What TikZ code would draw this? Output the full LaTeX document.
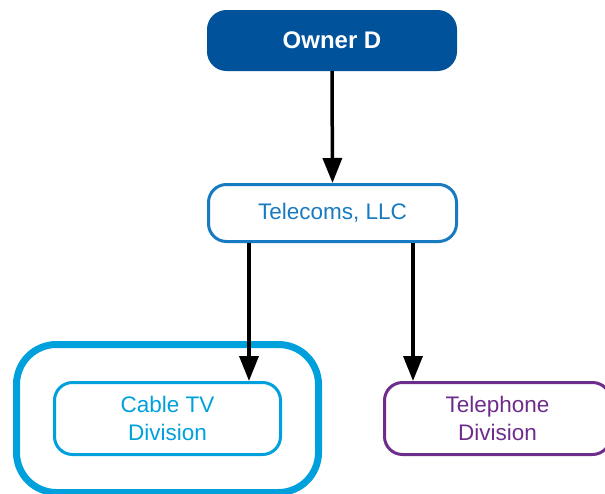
\documentclass[tikz,border=0pt]{standalone}
\usepackage{fontspec}
\setmainfont{Liberation Sans}
\usetikzlibrary{arrows.meta}
\definecolor{ownerblue}{RGB}{0,82,155}
\definecolor{llcblue}{RGB}{24,122,192}
\definecolor{cablecyan}{RGB}{0,160,220}
\definecolor{phonepurple}{RGB}{110,44,139}
\tikzset{
  unit/.style={rounded corners=18pt, line width=3pt, align=center, inner sep=0pt,
    font=\fontsize{22.5}{28.5}\selectfont},
  arr/.style={line width=3.5pt, -{Triangle[length=25pt,width=19pt]}}
}
\begin{document}
\begin{tikzpicture}[x=1pt, y=-1pt]
            \useasboundingbox (0,0) rectangle (605,493);
            \clip (0,0) rectangle (605,493);
            \node[unit, fill=ownerblue, draw=ownerblue, text=white, font=\fontsize{24}{29}\selectfont\bfseries,
                  minimum width=247pt, minimum height=58pt] (owner) at (332,40.5) {Owner D};
            \node[unit, draw=llcblue, text=llcblue, minimum width=248pt, minimum height=57pt] (llc) at (332.5,213) {Telecoms, LLC};
            \node[unit, draw=cablecyan, text=cablecyan, minimum width=226pt, minimum height=72pt] (cable) at (167.5,418.5) {Cable TV\\Division};
            \node[unit, draw=phonepurple, text=phonepurple, minimum width=226pt, minimum height=72pt] (phone) at (497.5,418.5) {Telephone\\Division};
            \node[draw=cablecyan, line width=7pt, rounded corners=40pt, minimum width=302pt, minimum height=148pt] (group) at (cable) {};
            \draw[arr] (owner.south) -- (llc.north);
            \draw[arr] ([xshift=-83.5pt]llc.south) -- ([xshift=-83.5pt]llc.south |- cable.north);
            \draw[arr] ([xshift=80.5pt]llc.south) -- ([xshift=80.5pt]llc.south |- phone.north);
        \end{tikzpicture}
\end{document}
